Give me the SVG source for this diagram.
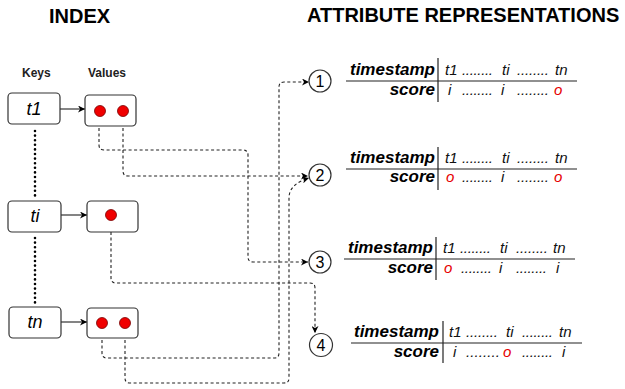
<svg xmlns="http://www.w3.org/2000/svg" width="625" height="389" viewBox="0 0 625 389">
<style>
.title{font-family:"Liberation Sans",Arial,sans-serif;font-weight:bold;font-size:20px;fill:#000}
.hdr{font-family:"Liberation Sans",Arial,sans-serif;font-weight:bold;font-size:12px;fill:#222}
.key{font-family:"Liberation Sans",Arial,sans-serif;font-style:italic;font-size:18px;fill:#000;text-anchor:middle}
.box{fill:#fff;stroke:#333;stroke-width:1.2}
.dot{fill:#f00000;stroke:#700;stroke-width:0.8}
.num{font-family:"Liberation Sans",Arial,sans-serif;font-size:16px;fill:#000;text-anchor:middle}
.circ{fill:#fff;stroke:#333;stroke-width:1.2}
.dash{fill:none;stroke:#222;stroke-width:1.1;stroke-dasharray:3,2.5}
.solid{fill:none;stroke:#333;stroke-width:1.2}
.kdots{fill:none;stroke:#000;stroke-width:2.6;stroke-linecap:round;stroke-dasharray:0,4.6}
.lab{font-family:"Liberation Sans",Arial,sans-serif;font-weight:bold;font-style:italic;font-size:17px;fill:#000;text-anchor:end}
.val{font-family:"Liberation Sans",Arial,sans-serif;font-style:italic;font-size:15px;fill:#111}
.red{fill:#e60000}
.tl{stroke:#222;stroke-width:1.2}
</style>
<defs>
<marker id="ah" viewBox="0 0 10 10" refX="10" refY="5" markerWidth="7" markerHeight="7" orient="auto" markerUnits="userSpaceOnUse">
<path d="M0,0 L10,5 L0,10 L3,5 z" fill="#000"/>
</marker>
</defs>

<text class="title" x="49" y="23">INDEX</text>
<text class="title" x="307" y="22">ATTRIBUTE REPRESENTATIONS</text>
<text class="hdr" x="22" y="77">Keys</text>
<text class="hdr" x="88" y="77">Values</text>

<g id="connectors">
<path class="kdots" d="M35,131 V199"/>
<path class="kdots" d="M35,238 V304"/>
<path class="solid" d="M60,109 H85" marker-end="url(#ah)"/>
<path class="solid" d="M61,215 H87" marker-end="url(#ah)"/>
<path class="solid" d="M61,322 H87" marker-end="url(#ah)"/>
<path class="dash" d="M99,117 V145 Q99,150 104,150 H243 Q248,150 248,155 V257 Q248,262 253,262 H308" marker-end="url(#ah)"/>
<path class="dash" d="M123,117 V171 Q123,176 128,176 H308" marker-end="url(#ah)"/>
<path class="dash" d="M111,221 V278 Q111,283 116,283 H310 Q315,283 315,288 V333" marker-end="url(#ah)"/>
<path class="dash" d="M102,329 V353 Q102,358 107,358 H274 Q279,358 279,353 V87 Q279,82 284,82 H309" marker-end="url(#ah)"/>
<path class="dash" d="M125,329 V378 Q125,383 130,383 H284 Q289,383 289,378 V198 Q289,184 309,178" marker-end="url(#ah)"/>
</g>

<g id="key-t1"><rect class="box" x="8" y="93" width="52" height="31" rx="4"/><text class="key" x="34" y="115">t1</text></g>
<g id="key-ti"><rect class="box" x="8" y="201" width="53" height="31" rx="4"/><text class="key" x="35" y="222">ti</text></g>
<g id="key-tn"><rect class="box" x="9" y="307" width="52" height="31" rx="4"/><text class="key" x="35" y="328">tn</text></g>

<g id="val-t1"><rect class="box" x="85" y="95" width="51" height="31" rx="4"/><circle class="dot" cx="100" cy="111" r="5.5"/><circle class="dot" cx="123" cy="111" r="5.5"/></g>
<g id="val-ti"><rect class="box" x="87" y="201" width="51" height="31" rx="4"/><circle class="dot" cx="111" cy="215" r="5.5"/></g>
<g id="val-tn"><rect class="box" x="87" y="308" width="51" height="30" rx="4"/><circle class="dot" cx="102" cy="323" r="5.5"/><circle class="dot" cx="125" cy="323" r="5.5"/></g>

<g id="c1"><circle class="circ" cx="320" cy="81" r="11"/><text class="num" x="320" y="86.5">1</text></g>
<g id="c2"><circle class="circ" cx="320" cy="175" r="11"/><text class="num" x="320" y="180.5">2</text></g>
<g id="c3"><circle class="circ" cx="320" cy="262" r="11"/><text class="num" x="320" y="267.5">3</text></g>
<g id="c4"><circle class="circ" cx="321" cy="345" r="11.5"/><text class="num" x="321" y="350.5">4</text></g>

<g id="table1" transform="translate(438,75)">
<text class="lab" x="-3" y="0">timestamp</text><text class="lab" x="-3" y="20">score</text>
<line class="tl" x1="0" y1="-17" x2="0" y2="27"/><line class="tl" x1="-92" y1="6" x2="139" y2="6"/>
<text class="val" x="7" y="0">t1</text><text class="val" x="24" y="0" textLength="31" lengthAdjust="spacing">........</text><text class="val" x="64" y="0">ti</text><text class="val" x="79" y="0" textLength="32" lengthAdjust="spacing">........</text><text class="val" x="117" y="0">tn</text>
<text class="val" x="10" y="20">i</text><text class="val" x="24" y="20" textLength="31" lengthAdjust="spacing">........</text><text class="val" x="63" y="20">i</text><text class="val" x="79" y="20" textLength="32" lengthAdjust="spacing">........</text><text class="val red" x="116" y="20">o</text>
</g>

<g id="table2" transform="translate(438,163)">
<text class="lab" x="-3" y="0">timestamp</text><text class="lab" x="-3" y="19">score</text>
<line class="tl" x1="0" y1="-16" x2="0" y2="27"/><line class="tl" x1="-92" y1="6" x2="139" y2="6"/>
<text class="val" x="7" y="0">t1</text><text class="val" x="24" y="0" textLength="31" lengthAdjust="spacing">........</text><text class="val" x="64" y="0">ti</text><text class="val" x="79" y="0" textLength="32" lengthAdjust="spacing">........</text><text class="val" x="117" y="0">tn</text>
<text class="val red" x="8" y="19">o</text><text class="val" x="24" y="19" textLength="31" lengthAdjust="spacing">........</text><text class="val" x="63" y="19">i</text><text class="val" x="79" y="19" textLength="32" lengthAdjust="spacing">........</text><text class="val red" x="116" y="19">o</text>
</g>

<g id="table3" transform="translate(436,253)">
<text class="lab" x="-3" y="0">timestamp</text><text class="lab" x="-3" y="20">score</text>
<line class="tl" x1="0" y1="-16" x2="0" y2="27"/><line class="tl" x1="-92" y1="6" x2="139" y2="6"/>
<text class="val" x="7" y="0">t1</text><text class="val" x="24" y="0" textLength="31" lengthAdjust="spacing">........</text><text class="val" x="64" y="0">ti</text><text class="val" x="80" y="0" textLength="32" lengthAdjust="spacing">........</text><text class="val" x="117" y="0">tn</text>
<text class="val red" x="8" y="20">o</text><text class="val" x="25" y="20" textLength="31" lengthAdjust="spacing">........</text><text class="val" x="63" y="20">i</text><text class="val" x="80" y="20" textLength="31" lengthAdjust="spacing">........</text><text class="val" x="120" y="20">i</text>
</g>

<g id="table4" transform="translate(443,337)">
<text class="lab" x="-4" y="0">timestamp</text><text class="lab" x="-4" y="20">score</text>
<line class="tl" x1="0" y1="-16" x2="0" y2="26"/><line class="tl" x1="-92" y1="6" x2="139" y2="6"/>
<text class="val" x="6" y="0">t1</text><text class="val" x="23" y="0" textLength="32" lengthAdjust="spacing">........</text><text class="val" x="63" y="0">ti</text><text class="val" x="79" y="0" textLength="31" lengthAdjust="spacing">........</text><text class="val" x="116" y="0">tn</text>
<text class="val" x="10" y="20">i</text><text class="val" x="23" y="20" textLength="34" lengthAdjust="spacing">........</text><text class="val red" x="60" y="20">o</text><text class="val" x="79" y="20" textLength="31" lengthAdjust="spacing">........</text><text class="val" x="119" y="20">i</text>
</g>
</svg>
